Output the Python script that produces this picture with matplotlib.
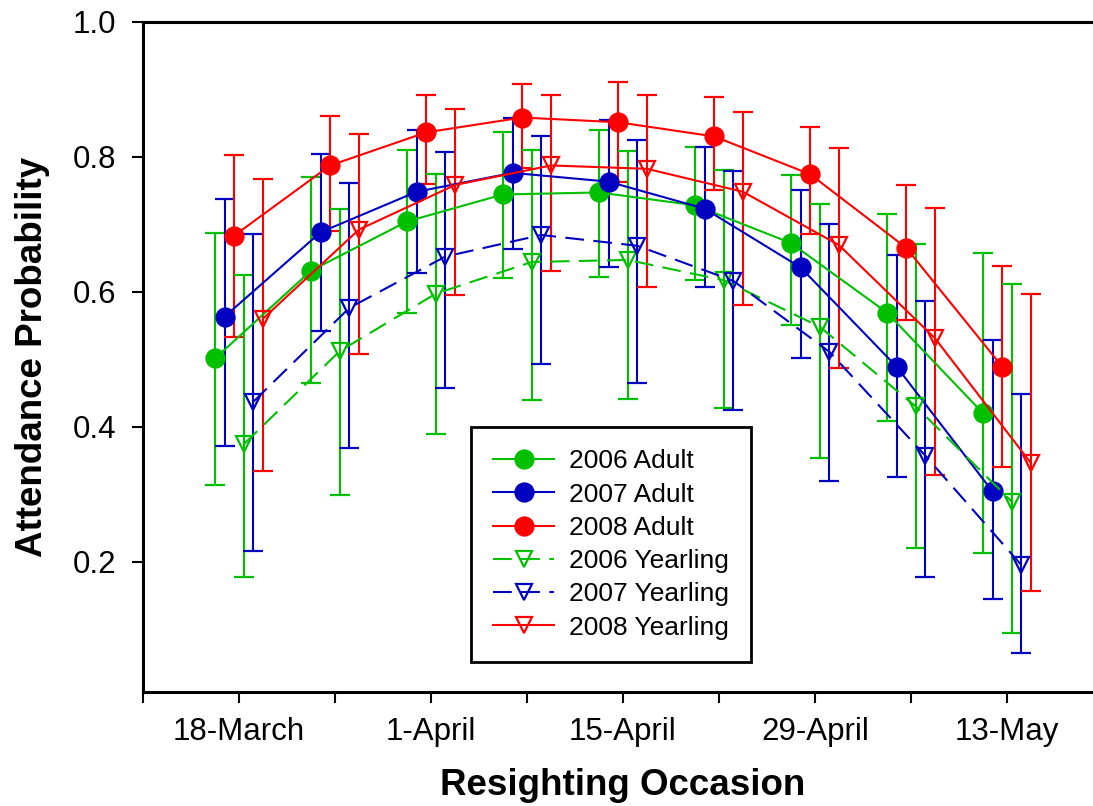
import numpy as np
import matplotlib
matplotlib.use('Agg')
import matplotlib.pyplot as plt

plt.rcParams['font.family'] = ['Liberation Sans', 'DejaVu Sans']

# resighting occasions, one per week
occasion = np.arange(1, 10)
tick_labels = ['', '18-March', '', '1-April', '', '15-April', '', '29-April', '', '13-May', '']

series = ['2006 Adult', '2007 Adult', '2008 Adult',
          '2006 Yearling', '2007 Yearling', '2008 Yearling']

# attendance probability with lower / upper confidence limits
adult_2006 = [0.501, 0.631, 0.704, 0.744, 0.747, 0.728, 0.672, 0.569, 0.420]
adult_2006_lo = [0.313, 0.464, 0.569, 0.620, 0.622, 0.617, 0.551, 0.409, 0.213]
adult_2006_hi = [0.687, 0.770, 0.810, 0.837, 0.840, 0.815, 0.773, 0.715, 0.657]

adult_2007 = [0.563, 0.688, 0.748, 0.776, 0.763, 0.723, 0.636, 0.489, 0.304]
adult_2007_lo = [0.372, 0.542, 0.627, 0.663, 0.637, 0.607, 0.502, 0.325, 0.144]
adult_2007_hi = [0.737, 0.804, 0.840, 0.858, 0.854, 0.815, 0.750, 0.655, 0.528]

adult_2008 = [0.683, 0.787, 0.836, 0.858, 0.851, 0.830, 0.774, 0.665, 0.489]
adult_2008_lo = [0.533, 0.690, 0.759, 0.783, 0.763, 0.751, 0.686, 0.558, 0.340]
adult_2008_hi = [0.802, 0.860, 0.891, 0.908, 0.910, 0.888, 0.844, 0.758, 0.638]

year_2006 = [0.374, 0.512, 0.597, 0.644, 0.647, 0.617, 0.548, 0.430, 0.289]
year_2006_lo = [0.177, 0.299, 0.389, 0.439, 0.441, 0.428, 0.353, 0.220, 0.094]
year_2006_hi = [0.624, 0.722, 0.775, 0.810, 0.809, 0.780, 0.730, 0.670, 0.611]

year_2007 = [0.437, 0.576, 0.652, 0.684, 0.668, 0.616, 0.511, 0.357, 0.195]
year_2007_lo = [0.216, 0.369, 0.457, 0.493, 0.465, 0.424, 0.320, 0.177, 0.064]
year_2007_hi = [0.686, 0.761, 0.807, 0.830, 0.824, 0.779, 0.700, 0.586, 0.449]

year_2008 = [0.560, 0.692, 0.758, 0.787, 0.782, 0.748, 0.669, 0.531, 0.346]
year_2008_lo = [0.334, 0.507, 0.595, 0.630, 0.607, 0.580, 0.487, 0.328, 0.156]
year_2008_hi = [0.767, 0.834, 0.871, 0.892, 0.892, 0.866, 0.813, 0.724, 0.596]

values = [adult_2006, adult_2007, adult_2008, year_2006, year_2007, year_2008]
lows = [adult_2006_lo, adult_2007_lo, adult_2008_lo, year_2006_lo, year_2007_lo, year_2008_lo]
highs = [adult_2006_hi, adult_2007_hi, adult_2008_hi, year_2006_hi, year_2007_hi, year_2008_hi]

colors = ['#00c000', '#0000c0', '#ff0000', '#00c000', '#0000c0', '#ff0000']
markers = ['o', 'o', 'o', 'v', 'v', 'v']
dashed = [False, False, False, True, True, False]
shift = [-0.25, -0.15, -0.05, 0.05, 0.15, 0.25]  # spread the series around each week

fig = plt.figure(figsize=(10.93, 8.06), dpi=100)
ax = fig.add_axes([0.1308, 0.1411, 0.8783, 0.8320])

handles = []
for i in range(len(series)):
    y = np.array(values[i])
    err = [y - np.array(lows[i]), np.array(highs[i]) - y]
    x = occasion + shift[i]
    if markers[i] == 'o':
        mfc = colors[i]
        ms = 13
    else:
        mfc = 'none'
        ms = 12
    line, caps, bars = ax.errorbar(x, y, yerr=err, color=colors[i], lw=1.5,
                                   elinewidth=1.5, capsize=7.2, capthick=1.5,
                                   marker=markers[i], ms=ms, mfc=mfc, mec=colors[i],
                                   mew=1.6)
    if dashed[i]:
        line.set_dashes([9, 4.5])
    handles.append(line)

ax.set_xlim(0, 10)
ax.set_ylim(0.0065, 1.0)
ax.set_xticks(np.arange(0, 11))
ax.set_xticklabels(tick_labels)
ax.set_yticks([0.2, 0.4, 0.6, 0.8, 1.0])
ax.set_yticklabels(['0.2', '0.4', '0.6', '0.8', '1.0'])
ax.tick_params(axis='both', direction='out', length=8, width=1.5, labelsize=22.5)
ax.tick_params(axis='x', pad=10)
ax.tick_params(axis='y', pad=11)

for side in ['left', 'bottom', 'top']:
    ax.spines[side].set_linewidth(2.2)
ax.spines['right'].set_visible(False)

ax.set_xlabel('Resighting Occasion', fontsize=26.5, fontweight='bold')
ax.set_ylabel('Attendance Probability', fontsize=26.5, fontweight='bold')
ax.xaxis.set_label_coords(0.4995, -0.113)
ax.yaxis.set_label_coords(-0.097, 0.5)

leg = ax.legend(handles, series, loc='upper left', bbox_to_anchor=(0.3417, 0.3956),
                borderaxespad=0, fontsize=19, frameon=True, fancybox=False,
                framealpha=1, edgecolor='black', handlelength=2.3,
                handletextpad=0.55, labelspacing=0.35, borderpad=0.85)
leg.get_frame().set_linewidth(2)

plt.savefig('out.png', dpi=100)
